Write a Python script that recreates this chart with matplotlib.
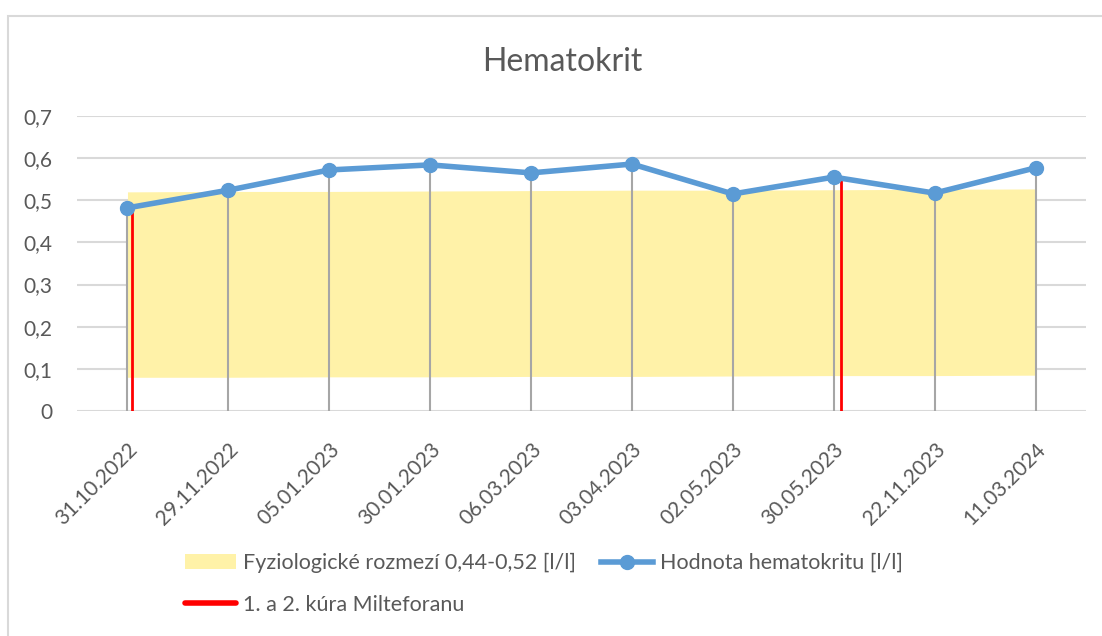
import matplotlib.pyplot as plt
import numpy as np
from matplotlib.patches import Rectangle
from matplotlib.lines import Line2D

plt.rcParams['font.family'] = ['Lato', 'DejaVu Sans']

datumy = ['31.10.2022', '29.11.2022', '05.01.2023', '30.01.2023', '06.03.2023',
          '03.04.2023', '02.05.2023', '30.05.2023', '22.11.2023', '11.03.2024']
hematokrit = [0.482, 0.524, 0.572, 0.584, 0.565, 0.586, 0.515, 0.555, 0.517, 0.577]

# yellow band (as drawn in the original)
pasmo_dole = [0.080, 0.080, 0.081, 0.081, 0.082, 0.082, 0.083, 0.084, 0.084, 0.085]
pasmo_hore = [0.520, 0.521, 0.521, 0.522, 0.523, 0.524, 0.524, 0.525, 0.526, 0.527]

# treatment courses (slightly right of the date tick)
kura_x = [0.04, 7.07]
kura_y = [0.482, 0.548]

sedy = '#595959'
fig = plt.figure(figsize=(11.02, 6.36), dpi=100)
ax = fig.add_axes([0.0699, 0.3538, 0.9156, 0.4638])

X = np.arange(len(datumy))

pasmo = ax.fill_between(X, pasmo_dole, pasmo_hore, color='#fff2a8', lw=0, zorder=1)
ax.vlines(X, 0, hematokrit, color='#a6a6a6', lw=1.5, zorder=2)
ax.vlines(kura_x, 0, kura_y, color='#ff0000', lw=2, zorder=3)
ciara, = ax.plot(X, hematokrit, color='#5b9bd5', lw=4, marker='o', ms=10, zorder=4)

ax.set_xlim(-0.5, 9.5)
ax.set_ylim(0, 0.7)
ax.set_yticks(np.arange(0, 0.71, 0.1))
ax.set_yticklabels(['0', '0,1', '0,2', '0,3', '0,4', '0,5', '0,6', '0,7'])
ax.set_xticks(X)
ax.set_xticklabels(datumy, rotation=45, ha='right', rotation_mode='anchor')
ax.tick_params(length=0, labelsize=15, colors=sedy)
ax.tick_params(axis='y', pad=18)
ax.tick_params(axis='x', pad=20)
ax.grid(axis='y', color='#d9d9d9', lw=1.5, zorder=0)
ax.set_axisbelow(True)
for s in ax.spines.values():
    s.set_visible(False)

fig.text(0.51, 0.902, 'Hematokrit', ha='center', va='center', fontsize=23, color=sedy)

cervena = Line2D([], [], color='#ff0000', lw=4, solid_capstyle='round')
# column-wise fill: band/red in col 1, blue in col 2
leg = fig.legend([pasmo, cervena, ciara],
                 ['Fyziologické rozmezí 0,44-0,52 [l/l]', '1. a 2. kúra Milteforanu',
                  'Hodnota hematokritu [l/l]'],
                 loc='upper left', bbox_to_anchor=(0.150, 0.161), ncol=2, frameon=False,
                 fontsize=15.5, handlelength=2.4, handletextpad=0.33, columnspacing=1.15,
                 labelspacing=1.0)
for t in leg.get_texts():
    t.set_color(sedy)

fig.patches.append(Rectangle((8 / 1102, -0.1), 1.2, 1 - 16 / 636 + 0.1,
                             transform=fig.transFigure, fill=False,
                             edgecolor='#d9d9d9', lw=1.5))

fig.savefig('out.png', dpi=100)
